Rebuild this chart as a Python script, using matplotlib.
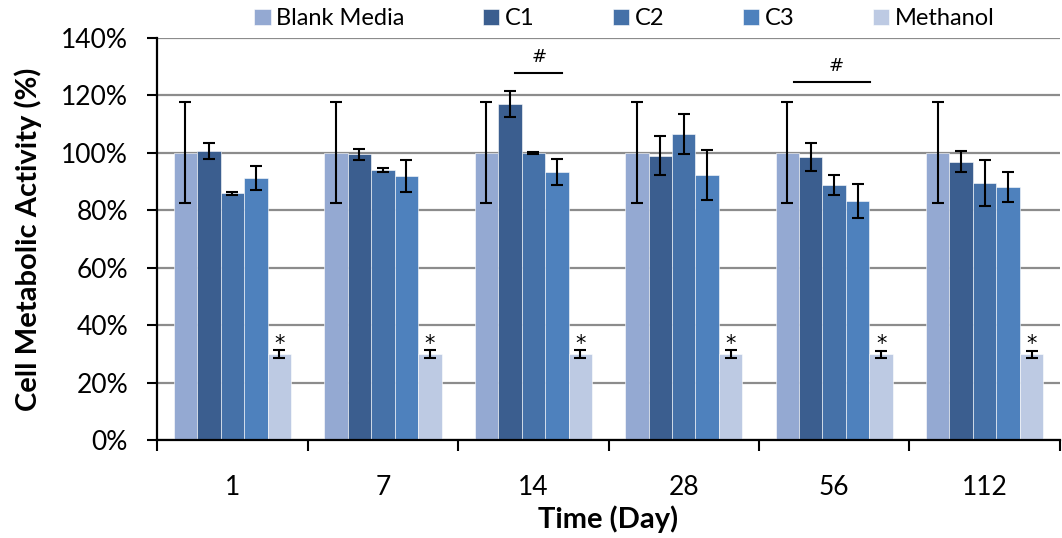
import matplotlib
matplotlib.use("Agg")
import matplotlib.pyplot as plt
import numpy as np

days = ["1", "7", "14", "28", "56", "112"]
series_names = ["Blank Media", "C1", "C2", "C3", "Methanol"]
blank = [100, 100, 100, 100, 100, 100]
blank_err = [17.5, 17.5, 17.5, 17.5, 17.5, 17.5]
c1 = [100.7, 99.4, 117.0, 99.0, 98.4, 96.9]
c1_err = [2.8, 1.8, 4.5, 6.9, 4.8, 3.8]
c2 = [85.8, 93.9, 99.8, 106.6, 88.6, 89.4]
c2_err = [0.4, 0.6, 0.3, 7.0, 3.5, 7.9]
c3 = [91.1, 91.8, 93.3, 92.1, 83.1, 88.0]
c3_err = [4.1, 5.5, 4.5, 8.7, 5.9, 5.2]
methanol = [30.0, 30.0, 30.0, 30.0, 29.8, 29.8]
methanol_err = [1.3, 1.3, 1.3, 1.3, 1.3, 1.3]

colors = ["#94A9D2", "#3B5E8F", "#4571A8", "#4E81BD", "#BDCAE3"]

plt.rcParams['font.family'] = ['Lato', 'DejaVu Sans']

fig = plt.figure(figsize=(10.62, 5.38), dpi=100)
ax = fig.add_axes([0.148, 0.182, 0.850, 0.748])

x = np.arange(len(days))
w = 0.156
data = [blank, c1, c2, c3, methanol]
errs = [blank_err, c1_err, c2_err, c3_err, methanol_err]
for k, (vals, e) in enumerate(zip(data, errs)):
    ax.bar(x + (k - 2) * w, vals, w, color=colors[k], label=series_names[k],
           edgecolor='white', linewidth=0.4, zorder=2)
    ax.errorbar(x + (k - 2) * w, vals, yerr=e, fmt='none', ecolor='black',
                elinewidth=1.5, capsize=4.3, capthick=1.5, zorder=3)

# significance markers
for i in range(len(days)):
    ax.text(x[i] + 2 * w, methanol[i] + methanol_err[i] + 2.3, "*",
            ha='center', va='center', fontsize=15, family='DejaVu Sans', zorder=4)

ax.plot([x[2] - 0.12, x[2] + 0.19], [127.6, 127.6], color='black', lw=1.5)
ax.text(x[2] + 0.04, 133.3, "#", ha='center', va='center', fontsize=13, family='DejaVu Sans')
ax.plot([x[4] - 0.267, x[4] + 0.237], [124.5, 124.5], color='black', lw=1.5)
ax.text(x[4] + 0.01, 130.3, "#", ha='center', va='center', fontsize=13, family='DejaVu Sans')

ax.set_ylim(0, 140)
ax.set_xlim(-0.5, len(days) - 0.5)
ax.set_yticks(np.arange(0, 141, 20))
ax.set_yticklabels([f"{v}%" for v in range(0, 141, 20)], fontsize=19)
ax.set_xticks(x)
ax.set_xticklabels(days, fontsize=19)
ax.set_xticks(np.arange(-0.5, len(days), 1.0), minor=True)
ax.tick_params(axis='x', which='major', length=0, pad=25)
ax.tick_params(axis='x', which='minor', length=8, width=1.5, direction='out')
ax.tick_params(axis='y', length=7, width=1.5, direction='out', pad=14)

ax.yaxis.grid(True, color='#8C8C8C', linewidth=1.6, zorder=0)
ax.set_axisbelow(True)
for s in ['top', 'right']:
    ax.spines[s].set_visible(False)
for s in ['left', 'bottom']:
    ax.spines[s].set_linewidth(1.6)

ax.set_ylabel("Cell Metabolic Activity (%)", fontsize=21, fontweight='bold', labelpad=14)
ax.set_xlabel("Time (Day)", fontsize=21, fontweight='bold', labelpad=4)

fig.legend(loc='center', bbox_to_anchor=(0.588, 0.965), ncol=5, frameon=False,
           fontsize=17, handlelength=0.7, handleheight=0.7, handletextpad=0.25,
           columnspacing=3.3)

fig.savefig("out.png", dpi=100)
